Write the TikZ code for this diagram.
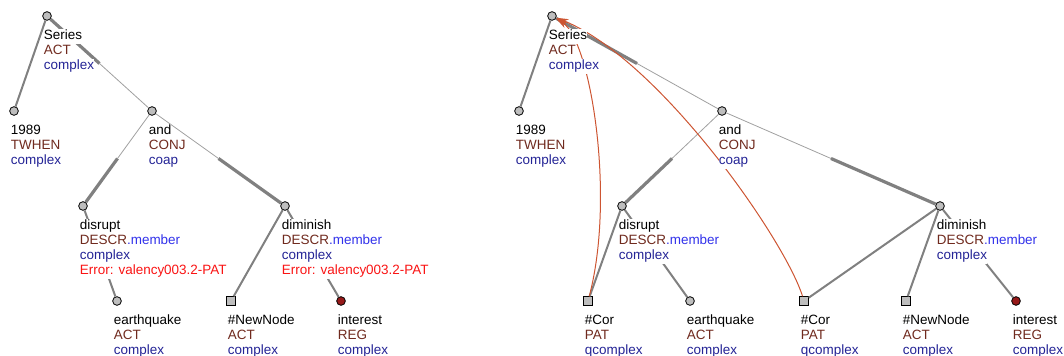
\documentclass[tikz,border=0pt]{standalone}
\usepackage{fontspec}
\setmainfont{Liberation Sans}
\usepackage{tikz}
\usetikzlibrary{positioning,calc,arrows.meta}
\definecolor{nodegray}{RGB}{190,190,190}
\definecolor{edgegray}{RGB}{128,128,128}
\definecolor{thingray}{RGB}{160,160,160}
\definecolor{funcbrown}{RGB}{112,42,30}
\definecolor{typeblue}{RGB}{36,36,150}
\definecolor{memblue}{RGB}{50,50,235}
\definecolor{errred}{RGB}{250,20,20}
\definecolor{regred}{RGB}{150,25,25}
\definecolor{corefred}{RGB}{205,85,50}
\setlength{\fboxsep}{0pt}
\newcommand{\tline}[2]{\colorbox{white}{\strut\textcolor{#1}{#2}}}

\begin{document}
\begin{tikzpicture}[x=0.75pt,y=-0.75pt,
  tnode/.style={circle,draw=black,fill=nodegray,line width=0.6pt,inner sep=0pt,minimum size=6.5pt},
  tsq/.style={rectangle,draw=black,fill=nodegray,line width=0.6pt,inner sep=0pt,minimum size=6.5pt},
  treg/.style={tnode,fill=regred},
  txt/.style={inner sep=0pt,align=left,font=\fontsize{10.1}{11.25}\selectfont},
  tedge/.style={draw=edgegray,line width=1.5pt},
  thk/.style={draw=edgegray,line width=2.4pt},
  thn/.style={draw=thingray,line width=0.6pt},
  coref/.style={draw=corefred,line width=0.75pt,-{Stealth[length=9pt,width=5pt,inset=2.5pt]}}
]
\useasboundingbox (0,0) rectangle (1064,356);

% the nodes of the left tree
\node[tnode] (l-ser) at (47,16) {};
\node[tnode] (l-y89) at (14,111) {};
\node[tnode] (l-and) at (152,111) {};
\node[tnode] (l-dis) at (83,206) {};
\node[tnode] (l-dim) at (285,206) {};
\node[tnode] (l-eq) at (117,301) {};
\node[tsq] (l-new) at (231,301) {};
\node[treg] (l-int) at (341,301) {};

% the nodes of the right tree
\node[tnode] (r-ser) at (552,16) {};
\node[tnode] (r-y89) at (519,111) {};
\node[tnode] (r-and) at (722,111) {};
\node[tnode] (r-dis) at (622,206) {};
\node[tnode] (r-dim) at (940,206) {};
\node[tsq] (r-cor1) at (588,301) {};
\node[tnode] (r-eq) at (690,301) {};
\node[tsq] (r-cor2) at (804,301) {};
\node[tsq] (r-new) at (906,301) {};
\node[treg] (r-int) at (1016,301) {};

% the plain edges
\foreach \a/\b in {l-ser/l-y89,l-dis/l-eq,l-dim/l-new,l-dim/l-int,
                   r-ser/r-y89,r-dis/r-cor1,r-dis/r-eq,r-dim/r-cor2,r-dim/r-new,r-dim/r-int}
  \draw[tedge] (\a) -- (\b);

% the coordination edges (thick half, thin half)
\foreach \a/\b in {l-ser/l-and,r-ser/r-and} {
  \draw[thk] (\a) -- ($(\a)!.5!(\b)$);
  \draw[thn] ($(\a)!.5!(\b)$) -- (\b);
}
\foreach \a/\b in {l-and/l-dis,l-and/l-dim,r-and/r-dis,r-and/r-dim} {
  \draw[thn] (\a) -- ($(\a)!.5!(\b)$);
  \draw[thk] ($(\a)!.5!(\b)$) -- (\b);
}

% the coreference arrows
\draw[coref] (r-cor1) .. controls (616,195) and (590,40) .. (r-ser);
\draw[coref] (r-cor2) .. controls (785,240) and (660,60) .. (r-ser);

% the labels of the left tree
\node[txt,below right=9.4pt and -2.5pt of l-ser.center] (l-ser-t)
  {\tline{black}{Series}\\ \tline{funcbrown}{ACT}\\ \tline{typeblue}{complex}};
\node[txt,below right=9.4pt and -2.5pt of l-y89.center] (l-y89-t)
  {\tline{black}{1989}\\ \tline{funcbrown}{TWHEN}\\ \tline{typeblue}{complex}};
\node[txt,below right=9.4pt and -2.5pt of l-and.center] (l-and-t)
  {\tline{black}{and}\\ \tline{funcbrown}{CONJ}\\ \tline{typeblue}{coap}};
\node[txt,below right=9.4pt and -2.5pt of l-dis.center] (l-dis-t)
  {\tline{black}{disrupt}\\ \tline{funcbrown}{DESCR\textcolor{memblue}{.member}}\\ \tline{typeblue}{complex}\\ \tline{errred}{Error: valency003.2-PAT}};
\node[txt,below right=9.4pt and -2.5pt of l-dim.center] (l-dim-t)
  {\tline{black}{diminish}\\ \tline{funcbrown}{DESCR\textcolor{memblue}{.member}}\\ \tline{typeblue}{complex}\\ \tline{errred}{Error: valency003.2-PAT}};
\node[txt,below right=9.4pt and -2.5pt of l-eq.center] (l-eq-t)
  {\tline{black}{earthquake}\\ \tline{funcbrown}{ACT}\\ \tline{typeblue}{complex}};
\node[txt,below right=9.4pt and -2.5pt of l-new.center] (l-new-t)
  {\tline{black}{\#NewNode}\\ \tline{funcbrown}{ACT}\\ \tline{typeblue}{complex}};
\node[txt,below right=9.4pt and -2.5pt of l-int.center] (l-int-t)
  {\tline{black}{interest}\\ \tline{funcbrown}{REG}\\ \tline{typeblue}{complex}};

% the labels of the right tree
\node[txt,below right=9.4pt and -2.5pt of r-ser.center] (r-ser-t)
  {\tline{black}{Series}\\ \tline{funcbrown}{ACT}\\ \tline{typeblue}{complex}};
\node[txt,below right=9.4pt and -2.5pt of r-y89.center] (r-y89-t)
  {\tline{black}{1989}\\ \tline{funcbrown}{TWHEN}\\ \tline{typeblue}{complex}};
\node[txt,below right=9.4pt and -2.5pt of r-and.center] (r-and-t)
  {\tline{black}{and}\\ \tline{funcbrown}{CONJ}\\ \tline{typeblue}{coap}};
\node[txt,below right=9.4pt and -2.5pt of r-dis.center] (r-dis-t)
  {\tline{black}{disrupt}\\ \tline{funcbrown}{DESCR\textcolor{memblue}{.member}}\\ \tline{typeblue}{complex}};
\node[txt,below right=9.4pt and -2.5pt of r-dim.center] (r-dim-t)
  {\tline{black}{diminish}\\ \tline{funcbrown}{DESCR\textcolor{memblue}{.member}}\\ \tline{typeblue}{complex}};
\node[txt,below right=9.4pt and -2.5pt of r-cor1.center] (r-cor1-t)
  {\tline{black}{\#Cor}\\ \tline{funcbrown}{PAT}\\ \tline{typeblue}{qcomplex}};
\node[txt,below right=9.4pt and -2.5pt of r-eq.center] (r-eq-t)
  {\tline{black}{earthquake}\\ \tline{funcbrown}{ACT}\\ \tline{typeblue}{complex}};
\node[txt,below right=9.4pt and -2.5pt of r-cor2.center] (r-cor2-t)
  {\tline{black}{\#Cor}\\ \tline{funcbrown}{PAT}\\ \tline{typeblue}{qcomplex}};
\node[txt,below right=9.4pt and -2.5pt of r-new.center] (r-new-t)
  {\tline{black}{\#NewNode}\\ \tline{funcbrown}{ACT}\\ \tline{typeblue}{complex}};
\node[txt,below right=9.4pt and -2.5pt of r-int.center] (r-int-t)
  {\tline{black}{interest}\\ \tline{funcbrown}{REG}\\ \tline{typeblue}{complex}};
\end{tikzpicture}
\end{document}
